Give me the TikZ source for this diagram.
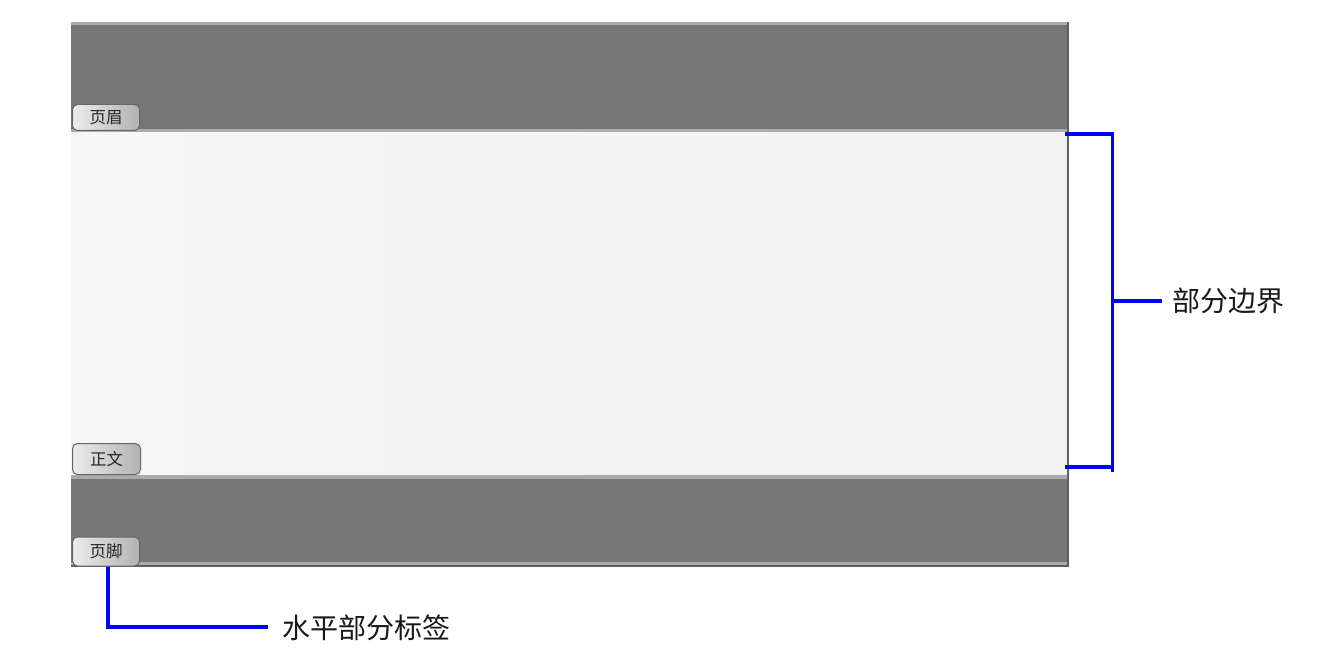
\documentclass[tikz,border=0pt]{standalone}
\usepackage{fontspec}
\newfontfamily\cjk{Noto Sans CJK SC}
\usetikzlibrary{calc}
\definecolor{bandgray}{HTML}{767676}
\definecolor{linegray}{HTML}{ABABAB}
\definecolor{edgegray}{HTML}{5E5E5E}
\definecolor{bodygray}{HTML}{F1F1F1}
\definecolor{leader}{HTML}{0000FF}
\tikzset{
  band/.style={fill=bandgray, draw=none},
  sepline/.style={fill=linegray, draw=none},
  tab/.style={draw=gray!80!black, line width=1pt, rounded corners=5pt,
    left color=gray!15, right color=gray!60, inner sep=0pt,
    anchor=north west, font=\cjk\fontsize{16.5}{16.5}\selectfont, text=black!85},
  lead/.style={draw=leader, line width=3.5pt},
  callout/.style={font=\cjk\fontsize{28}{28}\selectfont, text=black!90, inner sep=0pt}
}
\begin{document}
\begin{tikzpicture}[x=1pt,y=-1pt]
\useasboundingbox[fill=white] (0,0) rectangle (1338,666);
% header band
\path[band] (71,22) rectangle (1068,131);
\path[fill=linegray] (71,22) rectangle (1068,25);
\path[sepline] (71,129) rectangle (1068,133);
% body
\path[left color=gray!7, right color=bodygray, draw=none] (71,133) rectangle (1068,475);
% body/footer separator
\path[sepline] (71,475) rectangle (1068,479);
% footer band
\path[band] (71,479) rectangle (1068,566);
\path[sepline] (71,562) rectangle (1068,565);
\path[fill=edgegray] (71,565) rectangle (1068,567);
% right edge
\path[fill=edgegray] (1066.5,22) rectangle (1068.5,567);
% tabs
\node[tab, minimum width=67pt, minimum height=26pt] (hdr) at (72,104) {页眉};
\node[tab, minimum width=68pt, minimum height=31pt] (bdy) at (72,443) {正文};
\node[tab, minimum width=67pt, minimum height=29pt] (ftr) at (72,536.5) {页脚};
% callout labels
\node[callout, anchor=west] (sect) at (1172,301) {部分边界};
\node[callout, anchor=west] (hlab) at (282,628) {水平部分标签};
% bracket
\coordinate (bt) at (1065,134);
\coordinate (bb) at (1065,467);
\coordinate (bm) at (1112.5,301);
\draw[lead] (bt) -- (1114.25,134);
\draw[lead] (bb) -- (1114.25,467);
\draw[lead] (1112.5,132.25) -- (1112.5,472);
\draw[lead] (bm) -- ($(sect.west)+(-10,0)$);
% footer leader
\coordinate (fl) at (108,567);
\draw[lead] (fl) |- ($(hlab.west)+(-14,-1)$);
\end{tikzpicture}
\end{document}
